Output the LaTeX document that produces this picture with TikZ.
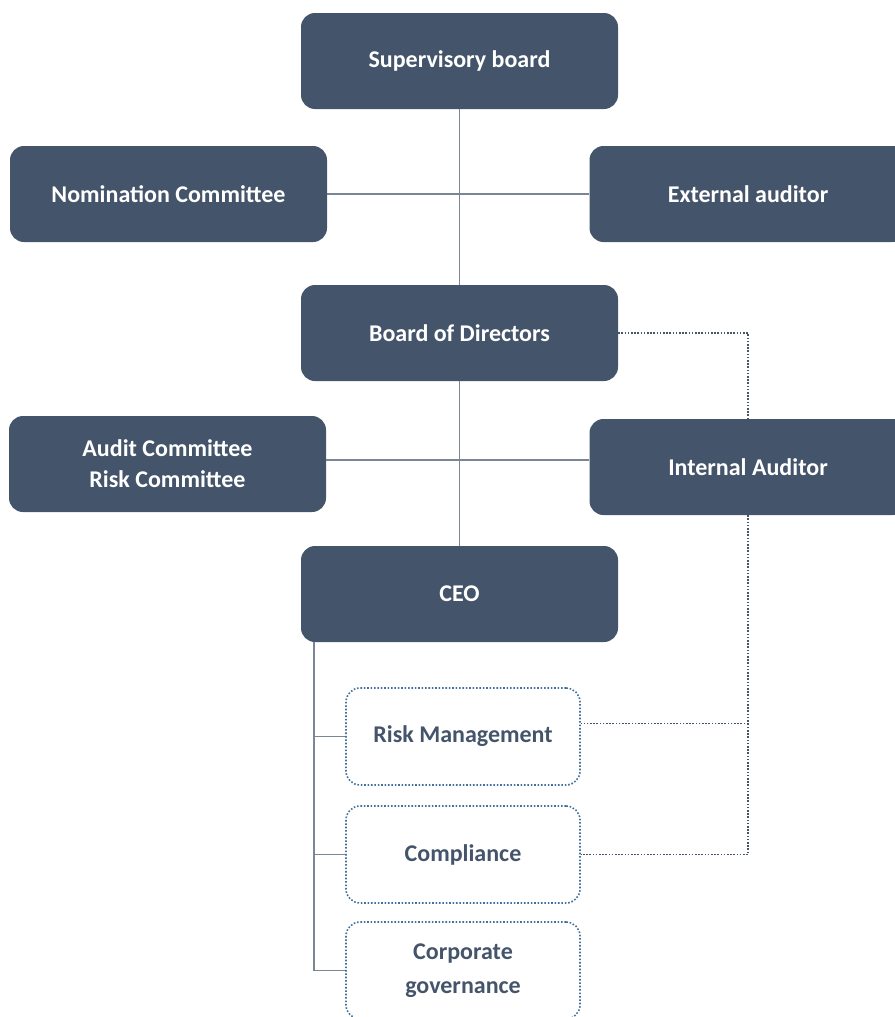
\documentclass[tikz,border=0pt]{standalone}
\usepackage{fontspec}
\setmainfont{Carlito}
\definecolor{slate}{HTML}{44546A}
\definecolor{rule}{HTML}{7A8596}
\definecolor{edge}{HTML}{41719C}
\tikzset{
  boardbox/.style={rectangle, rounded corners=14pt, fill=slate, text=white,
    minimum width=317pt, minimum height=96pt, align=center, inner sep=0pt,
    font=\fontsize{24}{31}\selectfont\bfseries},
  unitbox/.style={rectangle, rounded corners=14pt, draw=edge, dash pattern=on 1.6pt off 1.8pt, line width=1.6pt,
    text=slate, minimum width=234pt, minimum height=97pt, align=center, inner sep=0pt,
    font=\fontsize{24}{34}\selectfont\bfseries},
  conn/.style={draw=rule, line width=1.3pt},
  dotline/.style={draw=slate, dash pattern=on 1.6pt off 1.6pt, line width=1.7pt}
}
\begin{document}
\begin{tikzpicture}[x=1pt,y=-1pt]
\useasboundingbox (0,0) rectangle (894,1017);

\node[boardbox] (supervisory) at (459.5,61) {Supervisory board};
\node[boardbox] (nomination) at (168.5,194) {Nomination Committee};
\node[boardbox] (external) at (748,194) {External auditor};
\node[boardbox] (board) at (459.5,333) {Board of Directors};
\node[boardbox] (audit) at (167.5,464) {Audit Committee\\Risk Committee};
\node[boardbox] (internal) at (748,467) {Internal Auditor};
\node[boardbox] (ceo) at (459.5,594) {CEO};

\node[unitbox] (risk) at (463,736.5) {Risk Management};
\node[unitbox] (compliance) at (463,854.5) {Compliance};
\node[unitbox] (governance) at (463,970.5) {Corporate\\governance};

\draw[conn] (supervisory.south) -- (board.north);
\draw[conn] (nomination.east) -- (external.west);
\draw[conn] (board.south) -- (ceo.north);
\coordinate (split) at (459.5,460);
\draw[conn] (audit.east |- split) -- (internal.west |- split);

\coordinate (spine) at (314,642);
\draw[conn] (spine) |- (governance.west);
\draw[conn] (spine |- risk.west) -- (risk.west);
\draw[conn] (spine |- compliance.west) -- (compliance.west);

\coordinate (tap) at ([yshift=13pt]risk.east);
\draw[dotline] (board.east) -| (internal.north);
\draw[dotline] (internal.south) |- (tap);
\draw[dotline] (internal.south |- tap) |- (compliance.east);

\end{tikzpicture}
\end{document}
